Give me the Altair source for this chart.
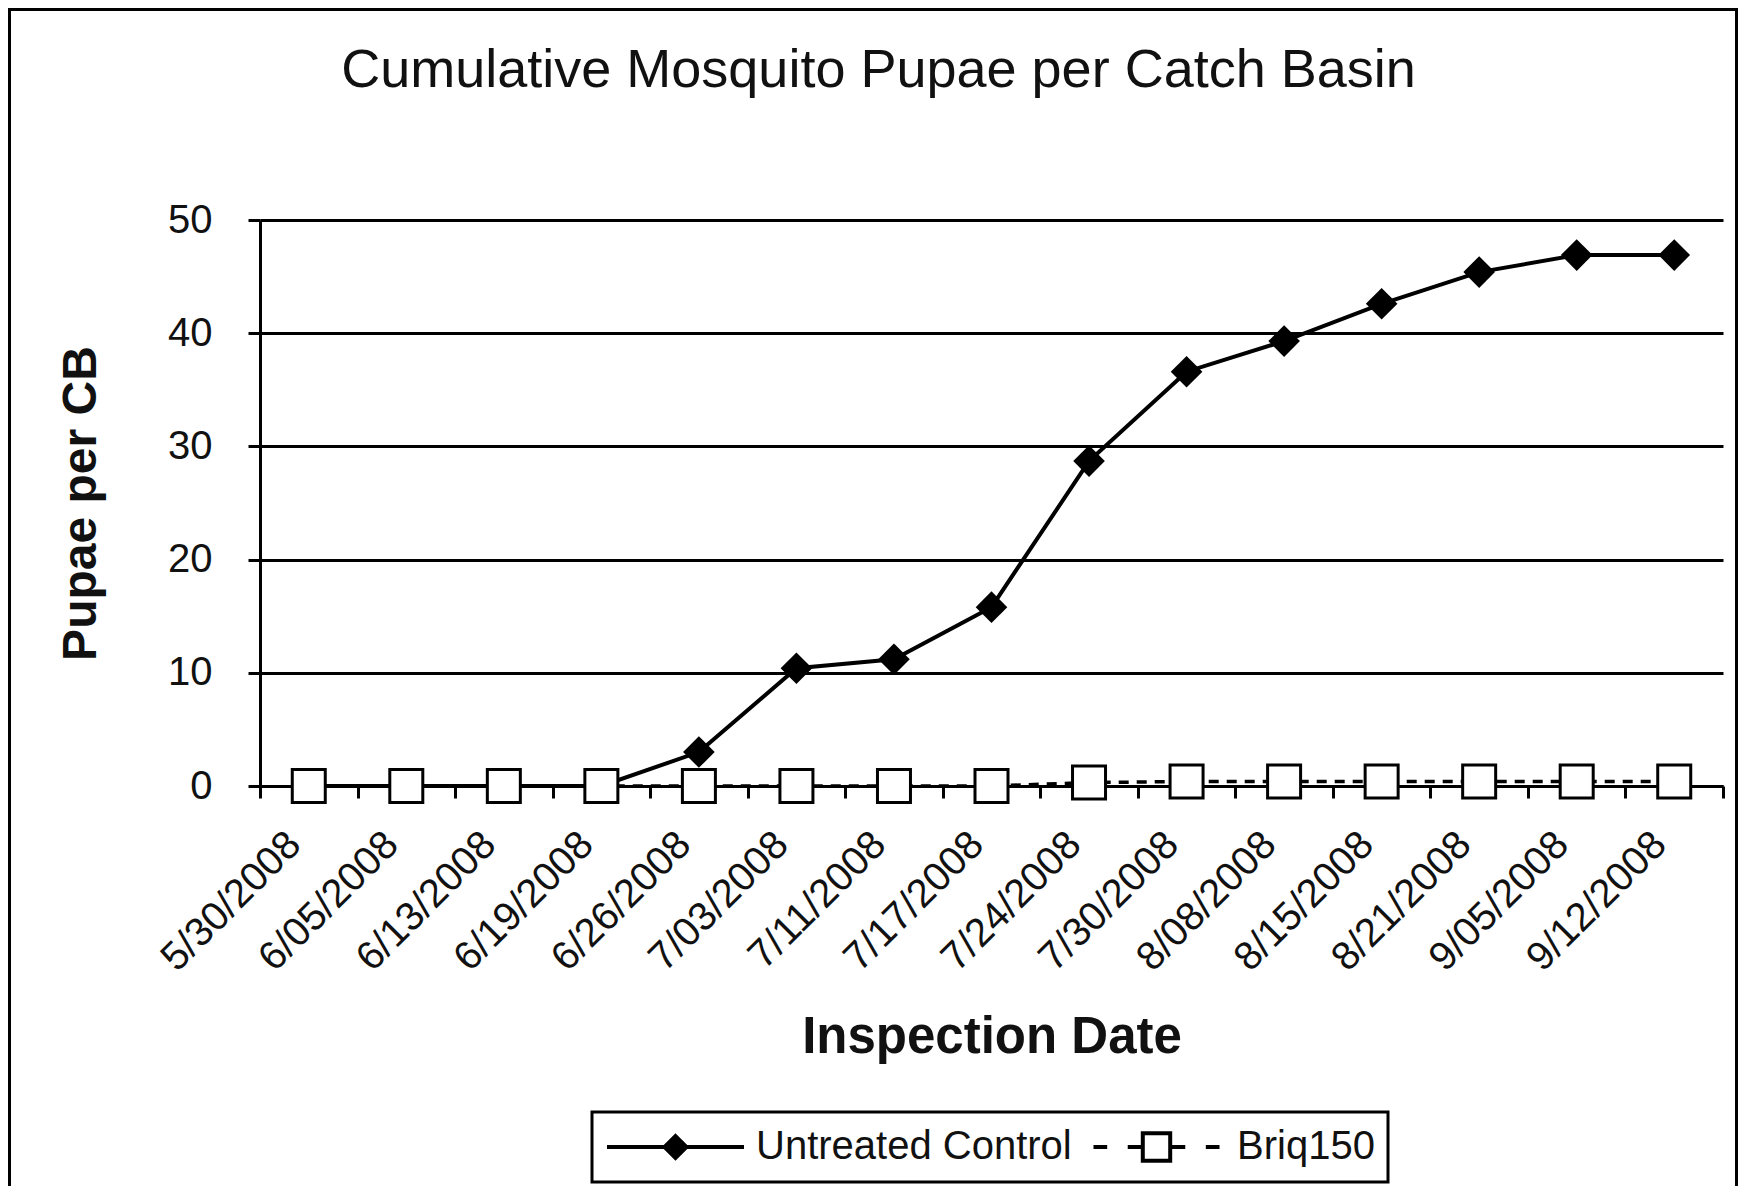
import altair as alt
import pandas as pd

dates = ["5/30/2008", "6/05/2008", "6/13/2008", "6/19/2008", "6/26/2008",
         "7/03/2008", "7/11/2008", "7/17/2008", "7/24/2008", "7/30/2008",
         "8/08/2008", "8/15/2008", "8/21/2008", "9/05/2008", "9/12/2008"]
untreated = [0, 0, 0, 0, 3.0, 10.4, 11.2, 15.8, 28.7, 36.6, 39.3, 42.6, 45.4, 46.9, 46.9]
briq = [0, 0, 0, 0, 0, 0, 0, 0, 0.3, 0.4, 0.4, 0.4, 0.4, 0.4, 0.4]
series_names = ["Untreated Control", "Briq150"]
y_ticks = [0, 10, 20, 30, 40, 50]

rows = []
for d, v in zip(dates, untreated):
    rows.append({"date": d, "value": v, "series": series_names[0]})
for d, v in zip(dates, briq):
    rows.append({"date": d, "value": v, "series": series_names[1]})
df = pd.DataFrame(rows)

FONT = "Liberation Sans"
W, H = 1463, 566
PAD = {"left": 252, "top": 212, "right": 15, "bottom": 400}

x_enc = alt.X(
    "date:O", sort=dates,
    scale=alt.Scale(type="band", paddingInner=0, paddingOuter=0),
    axis=alt.Axis(
        title="Inspection Date", grid=False, tickBand="extent",
        domainColor="black", domainWidth=3, tickColor="black", tickWidth=3, tickSize=12,
        labelAngle=-45, labelAlign="right", labelBaseline="top", labelPadding=26,
        labelOffset=-29, labelFont=FONT, labelFontSize=40, labelColor="#111",
        titleFont=FONT, titleFontSize=51, titleFontWeight="bold", titleColor="#111",
        titleAnchor="middle", titleBaseline="alphabetic", titleY=266, titleX=W / 2,
    ),
)
y_enc = alt.Y(
    "value:Q",
    scale=alt.Scale(domain=[0, 50], nice=False, zero=True),
    axis=alt.Axis(
        title="Pupae per CB", values=y_ticks, grid=True, gridColor="black", gridWidth=3,
        domainColor="black", domainWidth=3, tickColor="black", tickWidth=3, tickSize=12,
        labelFont=FONT, labelFontSize=40, labelColor="#111", labelPadding=36,
        titleFont=FONT, titleFontSize=48, titleFontWeight="bold", titleColor="#111",
        titleAngle=-90, titleAlign="center", titleBaseline="alphabetic",
        titleX=-165, titleY=H / 2,
    ),
)

base = alt.Chart(df)

line_u = base.transform_filter(alt.datum.series == series_names[0]).mark_line(
    color="black", strokeWidth=4
).encode(x=x_enc, y=y_enc)
pts_u = base.transform_filter(alt.datum.series == series_names[0]).mark_point(
    shape="diamond", filled=True, color="black", size=1000, opacity=1
).encode(x=x_enc, y=y_enc)
line_b = base.transform_filter(alt.datum.series == series_names[1]).mark_line(
    color="black", strokeWidth=3.5, strokeDash=[10, 8]
).encode(x=x_enc, y=y_enc)
pts_b = base.transform_filter(alt.datum.series == series_names[1]).mark_point(
    shape="square", filled=False, fill="white", stroke="black", strokeWidth=3, size=1089, opacity=1
).encode(x=x_enc, y=y_enc)

path_u = "M-1,0H1M0,-0.16L0.16,0L0,0.16L-0.16,0Z"
path_b = ("M-0.92,0H-0.72M-0.42,0H-0.2M-0.2,-0.2H0.2V0.2H-0.2ZM0.2,0H0.42M0.72,0H0.92")

legend = alt.Legend(
    title=None, orient="none", legendX=332, legendY=892, direction="horizontal",
    labelFont=FONT, labelFontSize=40, labelColor="#111", labelOffset=10, labelLimit=0,
    columnPadding=14, clipHeight=44, symbolSize=18769, symbolStrokeWidth=4,
    symbolStrokeColor="black", padding=13, fillColor="white", strokeColor="black",
)
legend_layer = alt.Chart(pd.DataFrame({"series": series_names})).transform_filter(
    "false"
).mark_point(size=18769, strokeWidth=4, opacity=1).encode(
    shape=alt.Shape("series:N", scale=alt.Scale(domain=series_names, range=[path_u, path_b]),
                    legend=legend),
    fill=alt.Fill("series:N", scale=alt.Scale(domain=series_names, range=["black", "white"]),
                  legend=legend),
    stroke=alt.Stroke("series:N", scale=alt.Scale(domain=series_names, range=["black", "black"]),
                      legend=legend),
)

frame_df = pd.DataFrame({"a": [0]})
frame_left = alt.Chart(frame_df).mark_rule(color="black", strokeWidth=3).encode(
    x=alt.value(-250.5), y=alt.value(-210.5), y2=alt.value(980))
frame_top = alt.Chart(frame_df).mark_rule(color="black", strokeWidth=3).encode(
    x=alt.value(-252), x2=alt.value(1480), y=alt.value(-210.5))
frame_right = alt.Chart(frame_df).mark_rule(color="black", strokeWidth=3).encode(
    x=alt.value(1476.5), y=alt.value(-210.5), y2=alt.value(980))

chart = alt.layer(
    frame_left, frame_top, frame_right, line_u, pts_u, line_b, pts_b, legend_layer
).properties(
    width=W, height=H,
    autosize=alt.AutoSizeParams(type="none"),
    padding=PAD,
    title=alt.TitleParams(
        "Cumulative Mosquito Pupae per Catch Basin", font=FONT, fontSize=54,
        fontWeight="normal", color="#111", anchor="middle", dx=-113, offset=-133,
        baseline="alphabetic",
    ),
).configure_view(stroke=None).configure_legend(strokeWidth=3)

chart.save("out.html", embed_options={"renderer": "svg", "actions": False})
